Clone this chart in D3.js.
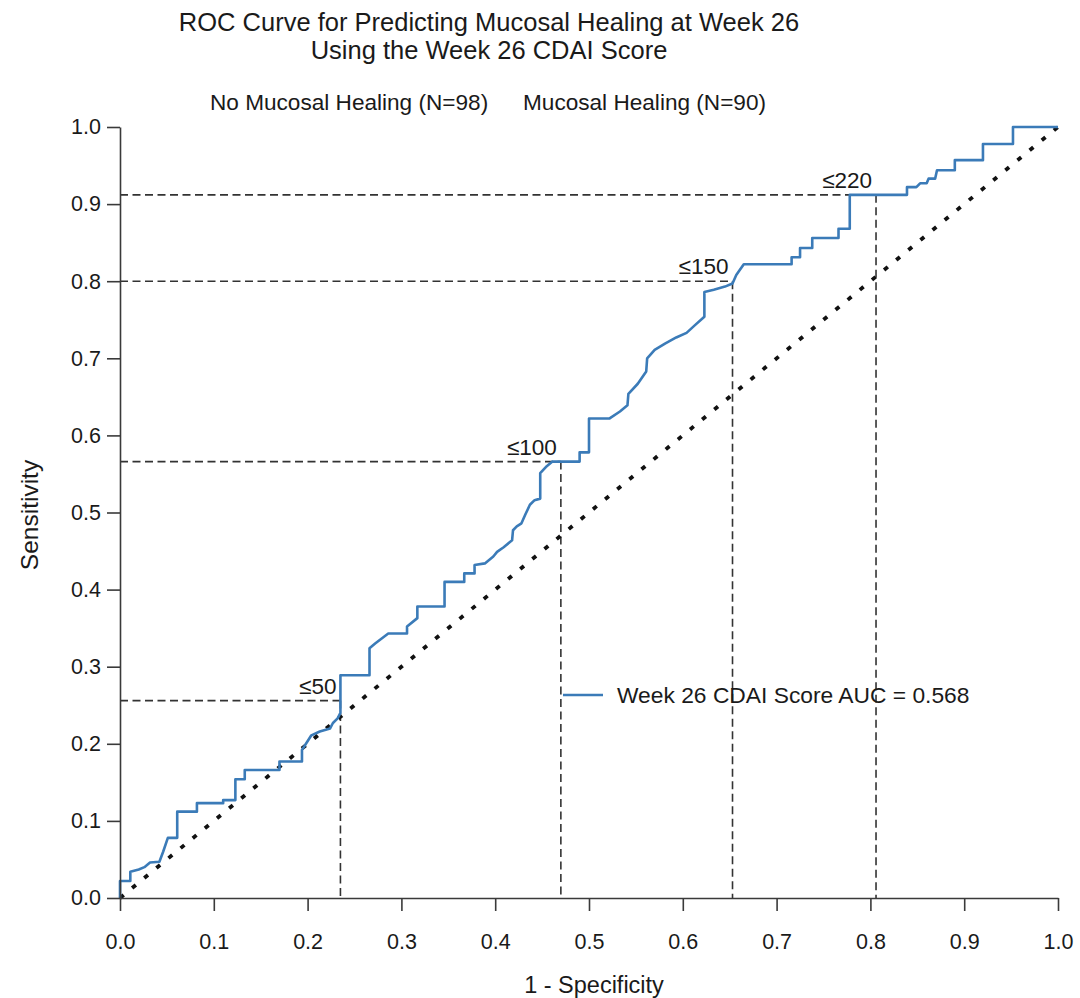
<!DOCTYPE html>
<html>
<head>
<meta charset="utf-8">
<script src="https://cdn.jsdelivr.net/npm/d3@7"></script>
<style>
  html, body { margin: 0; padding: 0; background: #fff; }
  svg { display: block; }
  text { font-family: "Liberation Sans", Arial, Helvetica, sans-serif; fill: #1a1a1a; }
</style>
</head>
<body>
<svg id="chart" width="1080" height="998"></svg>
<script>
// ---------------- data ----------------
const titleLines = ["ROC Curve for Predicting Mucosal Healing at Week 26", "Using the Week 26 CDAI Score"];
const groupLabels = ["No Mucosal Healing (N=98)", "Mucosal Healing (N=90)"];
const xTickValues = [0.0, 0.1, 0.2, 0.3, 0.4, 0.5, 0.6, 0.7, 0.8, 0.9, 1.0];
const yTickValues = [0.0, 0.1, 0.2, 0.3, 0.4, 0.5, 0.6, 0.7, 0.8, 0.9, 1.0];
const xAxisTitle = "1 - Specificity";
const yAxisTitle = "Sensitivity";
const legendLabel = "Week 26 CDAI Score AUC = 0.568";

// ROC curve (1 - specificity, sensitivity)
const rocFpr = [0, 0, 0.011, 0.011, 0.02, 0.026, 0.032, 0.042, 0.046, 0.051, 0.061, 0.061,
  0.082, 0.082, 0.11, 0.11, 0.123, 0.123, 0.133, 0.133, 0.17, 0.17, 0.194, 0.194, 0.204, 0.213,
  0.224, 0.227, 0.232, 0.235, 0.235,
  0.266, 0.266, 0.272, 0.286, 0.306, 0.306, 0.317, 0.317, 0.346, 0.346, 0.367, 0.367, 0.378,
  0.378, 0.389, 0.398, 0.402, 0.409, 0.418, 0.419, 0.423, 0.428, 0.432, 0.437, 0.442, 0.448,
  0.448, 0.454, 0.461, 0.49, 0.49, 0.5, 0.5, 0.522, 0.533, 0.541, 0.542, 0.552, 0.561, 0.562,
  0.57, 0.581, 0.593, 0.604, 0.613, 0.623, 0.623, 0.633, 0.645, 0.653, 0.657, 0.665, 0.716,
  0.716, 0.725, 0.725, 0.738, 0.738, 0.766, 0.766, 0.778, 0.778, 0.839, 0.839, 0.849, 0.853,
  0.86, 0.862, 0.869, 0.871, 0.89, 0.89, 0.92, 0.92, 0.952, 0.952, 1.0];
const rocSens = [0, 0.022, 0.022, 0.034, 0.037, 0.04, 0.046, 0.047, 0.06, 0.078, 0.078, 0.112,
  0.112, 0.123, 0.123, 0.127, 0.127, 0.154, 0.154, 0.166, 0.166, 0.177, 0.177, 0.192, 0.211, 0.216,
  0.22, 0.227, 0.233, 0.24, 0.289,
  0.289, 0.324, 0.33, 0.343, 0.343, 0.352, 0.363, 0.378, 0.378, 0.41, 0.41, 0.421, 0.421,
  0.432, 0.434, 0.443, 0.449, 0.455, 0.464, 0.477, 0.482, 0.486, 0.497, 0.51, 0.516, 0.518,
  0.551, 0.559, 0.566, 0.566, 0.578, 0.578, 0.622, 0.622, 0.631, 0.639, 0.654, 0.667, 0.683, 0.7,
  0.711, 0.719, 0.727, 0.733, 0.743, 0.754, 0.786, 0.789, 0.793, 0.797, 0.808, 0.822, 0.822,
  0.831, 0.831, 0.843, 0.843, 0.856, 0.856, 0.868, 0.868, 0.912, 0.912, 0.922, 0.922, 0.927,
  0.927, 0.933, 0.933, 0.944, 0.944, 0.957, 0.957, 0.978, 0.978, 1.0, 1.0];

// chance diagonal
const diagFpr = [0, 1];
const diagSens = [0, 1];

// labelled cut-offs
const cutLabels = ["\u226450", "\u2264100", "\u2264150", "\u2264220"];
const cutFpr = [0.235, 0.470, 0.653, 0.806];
const cutSens = [0.256, 0.566, 0.800, 0.912];

// ---------------- layout ----------------
const svg = d3.select("#chart");
const X0 = 120, X1 = 1058, Y0 = 898, Y1 = 127;
const x = d3.scaleLinear().domain([0, 1]).range([X0, X1]);
const y = d3.scaleLinear().domain([0, 1]).range([Y0, Y1]);
const axisColor = "#3a3a3a";
const curveColor = "#3b7bb8";

// titles
svg.selectAll("text.title").data(titleLines).enter().append("text")
  .attr("class", "title")
  .attr("x", 489).attr("y", (d, i) => 31 + i * 28)
  .attr("text-anchor", "middle")
  .style("font-size", "25.5px")
  .text(d => d);

svg.selectAll("text.group").data(groupLabels).enter().append("text")
  .attr("class", "group")
  .attr("x", (d, i) => [210, 523][i]).attr("y", 110)
  .style("font-size", "22.6px")
  .text(d => d);

// reference dashed lines
const refG = svg.append("g");
cutLabels.forEach((lab, i) => {
  refG.append("line")
    .attr("x1", x(0)).attr("x2", x(cutFpr[i]))
    .attr("y1", y(cutSens[i])).attr("y2", y(cutSens[i]))
    .attr("stroke", "#333").attr("stroke-width", 1.6).attr("stroke-dasharray", "8,4.5");
  refG.append("line")
    .attr("x1", x(cutFpr[i])).attr("x2", x(cutFpr[i]))
    .attr("y1", y(cutSens[i])).attr("y2", y(0))
    .attr("stroke", "#333").attr("stroke-width", 1.6).attr("stroke-dasharray", "8,4.5");
  refG.append("text")
    .attr("x", x(cutFpr[i]) - 4).attr("y", y(cutSens[i]) - 7)
    .attr("text-anchor", "end")
    .style("font-size", "22.5px")
    .text(lab);
});

// diagonal
svg.append("path")
  .datum(diagFpr.map((d, i) => [d, diagSens[i]]))
  .attr("d", d3.line().x(d => x(d[0])).y(d => y(d[1])))
  .attr("fill", "none").attr("stroke", "#111")
  .attr("stroke-width", 3.8).attr("stroke-dasharray", "4.8,10.9");

// ROC curve
svg.append("path")
  .datum(rocFpr.map((d, i) => [d, rocSens[i]]))
  .attr("d", d3.line().x(d => x(d[0])).y(d => y(d[1])))
  .attr("fill", "none").attr("stroke", curveColor)
  .attr("stroke-width", 2.6).attr("stroke-linejoin", "round");

// axes
const fmt = d3.format(".1f");
const xAxis = svg.append("g").attr("transform", `translate(0,${Y0})`)
  .call(d3.axisBottom(x).tickValues(xTickValues).tickFormat(fmt).tickSize(13).tickSizeOuter(0).tickPadding(23));
const yAxis = svg.append("g").attr("transform", `translate(${X0},0)`)
  .call(d3.axisLeft(y).tickValues(yTickValues).tickFormat(fmt).tickSize(13).tickSizeOuter(0).tickPadding(6));
[xAxis, yAxis].forEach(g => {
  g.select(".domain").attr("stroke", axisColor).attr("stroke-width", 1.6);
  g.selectAll(".tick line").attr("stroke", axisColor).attr("stroke-width", 1.6);
  g.selectAll(".tick text").style("font-size", "21.5px").style("font-family", "'Liberation Sans', Arial, sans-serif").attr("fill", "#1a1a1a");
});

svg.append("text")
  .attr("x", 594).attr("y", 993)
  .attr("text-anchor", "middle")
  .style("font-size", "23.5px")
  .text(xAxisTitle);

svg.append("text")
  .attr("transform", `translate(38,515) rotate(-90)`)
  .attr("text-anchor", "middle")
  .style("font-size", "24.5px")
  .text(yAxisTitle);

// legend
svg.append("line")
  .attr("x1", 563).attr("x2", 603).attr("y1", 695).attr("y2", 695)
  .attr("stroke", curveColor).attr("stroke-width", 2.6);
svg.append("text")
  .attr("x", 617).attr("y", 703)
  .style("font-size", "22.8px")
  .text(legendLabel);
</script>
</body>
</html>
